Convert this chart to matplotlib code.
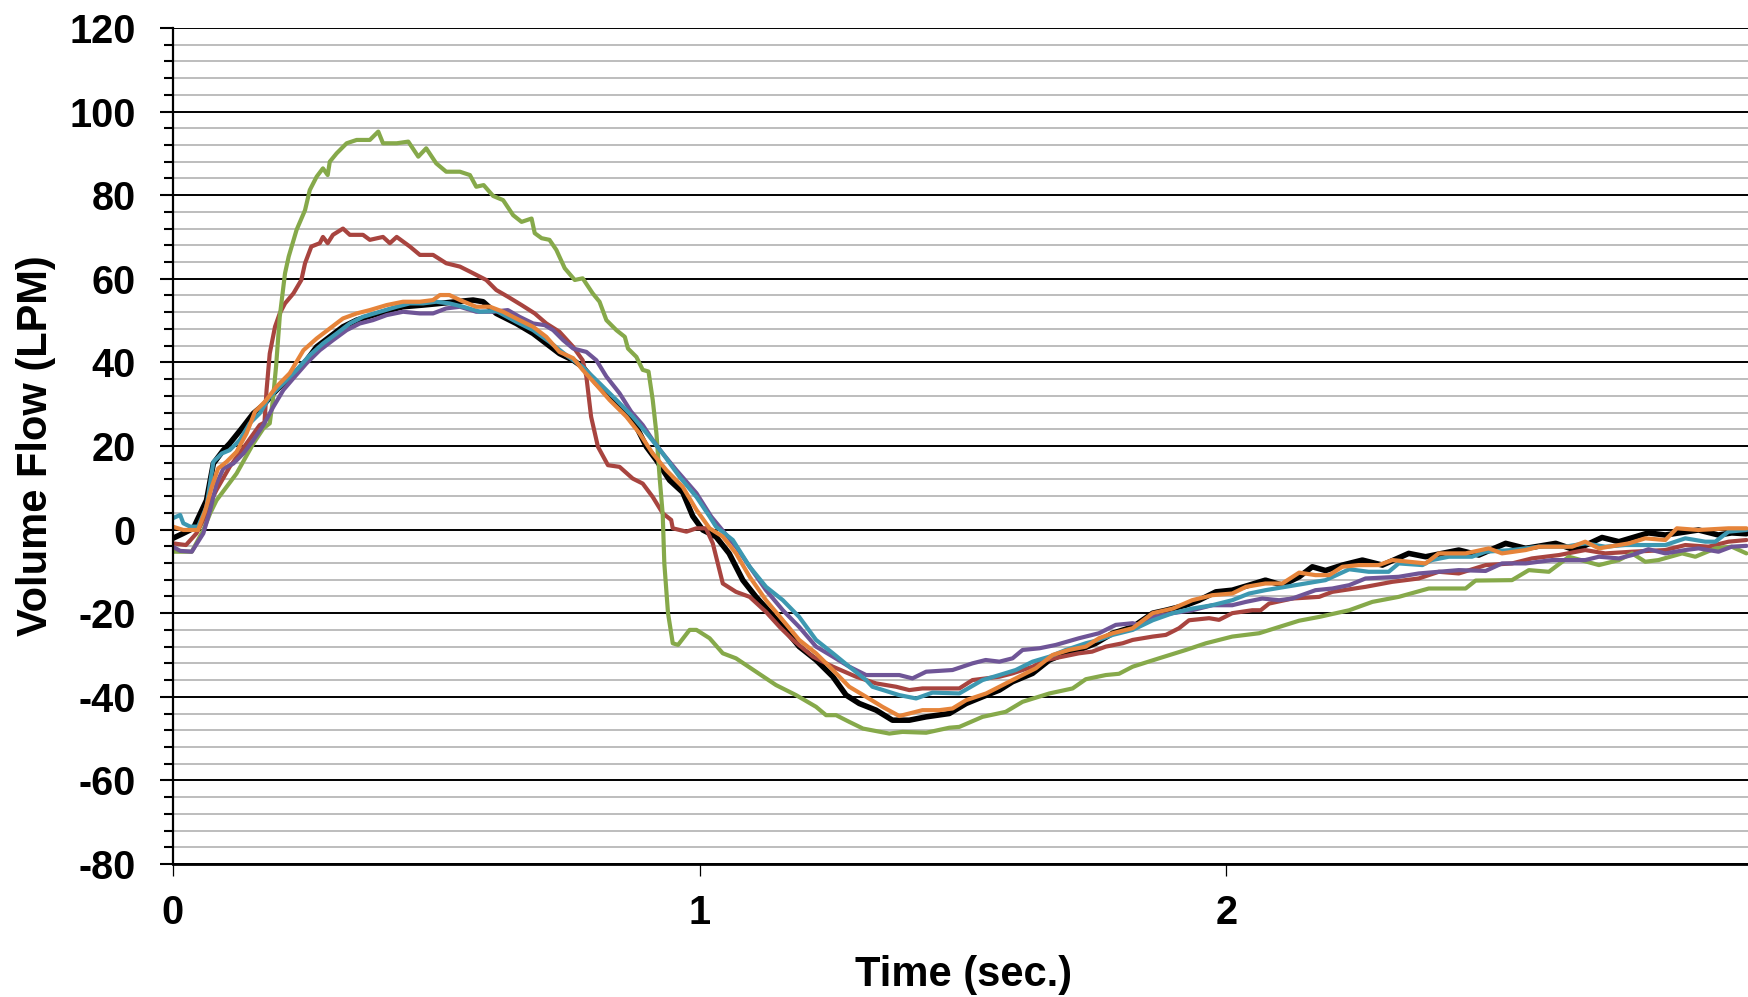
import matplotlib
matplotlib.use("Agg")
import matplotlib.pyplot as plt
from matplotlib.ticker import MultipleLocator

plt.rcParams['font.family'] = ['Liberation Sans', 'DejaVu Sans']
plt.rcParams['font.weight'] = 'bold'
plt.rcParams['axes.unicode_minus'] = False

# (time in s, flow in LPM)
black = [(0, -2.1), (0.02, -0.9), (0.039, 0.3), (0.064, 7), (0.077, 15.8), (0.096, 19), (0.108, 20.6),
         (0.131, 24.2), (0.153, 27.8), (0.172, 29.8), (0.191, 32.6), (0.216, 35.8), (0.235, 37.8),
         (0.254, 40.5), (0.273, 43.7), (0.298, 46.1), (0.323, 48.5), (0.349, 50.1), (0.38, 51.3),
         (0.412, 52.5), (0.437, 53.3), (0.475, 53.7), (0.5, 54), (0.538, 54.5), (0.57, 54.9),
         (0.589, 54.5), (0.614, 51.7), (0.652, 49.3), (0.684, 46.9), (0.709, 44.5), (0.734, 42.1),
         (0.76, 40.5), (0.778, 38.9), (0.804, 35), (0.829, 31.8), (0.854, 28.6), (0.88, 24.6),
         (0.899, 19.8), (0.918, 16.6), (0.943, 11.8), (0.968, 8.9), (0.987, 3.2), (1.006, -0.1),
         (1.031, -1.7), (1.056, -5.7), (1.082, -12.1), (1.107, -16.1), (1.133, -19.7), (1.158, -23.3),
         (1.189, -28), (1.221, -31.2), (1.253, -35.2), (1.278, -39.6), (1.303, -41.6), (1.335, -43.2),
         (1.366, -45.6), (1.398, -45.6), (1.43, -44.8), (1.474, -44), (1.506, -41.6), (1.537, -40),
         (1.569, -38.4), (1.594, -36.4), (1.632, -34.4), (1.664, -31.2), (1.695, -29.6), (1.72, -28.8),
         (1.752, -27.2), (1.784, -24.8), (1.822, -23.3), (1.86, -20), (1.885, -19.3), (1.923, -18.1),
         (1.948, -16.9), (1.98, -14.9), (2.011, -14.5), (2.043, -13.3), (2.074, -12.1), (2.106, -13.3),
         (2.138, -11.3), (2.163, -8.9), (2.188, -9.8), (2.22, -8.5), (2.258, -7.3), (2.296, -8.5),
         (2.346, -5.7), (2.378, -6.5), (2.441, -4.9), (2.479, -6.1), (2.53, -3.3), (2.568, -4.5),
         (2.625, -3.3), (2.662, -4.9), (2.713, -1.9), (2.745, -2.9), (2.801, -0.8), (2.833, -1.3),
         (2.896, -0.1), (2.934, -1.3), (2.959, -0.8), (2.987, -1)]

red = [(0, -3.3), (0.025, -3.7), (0.045, -0.9), (0.058, 2.3), (0.071, 6.5), (0.083, 9.5), (0.108, 15),
       (0.14, 20.6), (0.165, 25), (0.174, 25.6), (0.178, 33.4), (0.184, 42.1), (0.194, 48.5),
       (0.203, 51.7), (0.213, 54.1), (0.229, 56.5), (0.244, 59.7), (0.251, 63.7), (0.263, 67.7),
       (0.279, 68.5), (0.285, 70), (0.294, 68.5), (0.304, 70.5), (0.323, 72), (0.336, 70.5),
       (0.361, 70.5), (0.374, 69.3), (0.399, 70), (0.412, 68.5), (0.425, 70), (0.45, 67.7),
       (0.469, 65.7), (0.494, 65.7), (0.519, 63.7), (0.545, 62.9), (0.564, 61.7), (0.595, 59.7),
       (0.614, 57.3), (0.636, 55.7), (0.662, 53.7), (0.687, 51.7), (0.709, 49.3), (0.734, 47.3),
       (0.76, 43.7), (0.778, 40.5), (0.785, 36.6), (0.794, 27), (0.807, 19.8), (0.826, 15.4),
       (0.848, 15), (0.873, 12.2), (0.892, 11), (0.911, 7.8), (0.93, 3.9), (0.946, 2.3), (0.949, 0.3),
       (0.975, -0.5), (0.994, 0.3), (1.012, 0.3), (1.025, -3.3), (1.044, -12.9), (1.069, -14.9),
       (1.095, -16.1), (1.126, -19.7), (1.152, -23.3), (1.177, -26.4), (1.215, -30.4), (1.253, -32.8),
       (1.297, -35.2), (1.335, -36.8), (1.373, -37.6), (1.398, -38.4), (1.423, -38), (1.455, -38),
       (1.493, -38), (1.518, -36), (1.569, -35.2), (1.594, -34.4), (1.632, -32.8), (1.657, -31.2),
       (1.689, -30.4), (1.72, -29.6), (1.745, -29.2), (1.771, -28), (1.803, -27.2), (1.822, -26.4),
       (1.86, -25.6), (1.885, -25.2), (1.91, -23.6), (1.929, -21.7), (1.967, -21.2), (1.986, -21.6),
       (2.011, -20), (2.049, -19.3), (2.065, -19.3), (2.081, -17.7), (2.125, -16.5), (2.176, -16.1),
       (2.201, -14.9), (2.264, -13.7), (2.315, -12.5), (2.365, -11.7), (2.403, -10.1), (2.441, -10.5),
       (2.492, -8.5), (2.542, -8.1), (2.58, -6.9), (2.631, -6.1), (2.681, -4.9), (2.719, -5.7),
       (2.77, -5.3), (2.833, -4.9), (2.871, -3.7), (2.915, -4.1), (2.953, -2.9), (2.987, -2.5)]

green = [(0, -5.3), (0.036, -5.3), (0.058, -0.1), (0.071, 3.9), (0.083, 7), (0.121, 13.4), (0.153, 20.6),
         (0.172, 24.2), (0.184, 25.4), (0.19, 31), (0.196, 39), (0.203, 50.9), (0.213, 61.3),
         (0.22, 65.3), (0.235, 71.7), (0.251, 76.4), (0.26, 81.2), (0.273, 84.4), (0.285, 86.4),
         (0.294, 84.8), (0.298, 88), (0.311, 90), (0.33, 92.4), (0.349, 93.2), (0.374, 93.2),
         (0.39, 95.2), (0.399, 92.4), (0.425, 92.4), (0.447, 92.8), (0.466, 89.2), (0.481, 91.2),
         (0.5, 87.6), (0.519, 85.6), (0.545, 85.6), (0.564, 84.8), (0.576, 82), (0.59, 82.4),
         (0.608, 79.8), (0.627, 78.8), (0.646, 75.2), (0.662, 73.6), (0.681, 74.4), (0.687, 70.9),
         (0.7, 69.7), (0.715, 69.3), (0.728, 66.9), (0.744, 62.5), (0.763, 59.7), (0.778, 60.1),
         (0.797, 56.5), (0.81, 54.5), (0.823, 50.1), (0.842, 47.7), (0.858, 46.1), (0.864, 43.3),
         (0.88, 41.3), (0.892, 38.2), (0.903, 37.8), (0.911, 31), (0.918, 23), (0.924, 12.6),
         (0.93, 3.5), (0.933, -8.1), (0.94, -20), (0.949, -27.2), (0.959, -27.6), (0.981, -24),
         (0.994, -24), (1.019, -26), (1.044, -29.6), (1.069, -30.8), (1.107, -34), (1.145, -37.2),
         (1.183, -39.6), (1.221, -42.4), (1.24, -44.4), (1.259, -44.4), (1.284, -46), (1.31, -47.6),
         (1.36, -48.8), (1.385, -48.4), (1.43, -48.6), (1.474, -47.4), (1.493, -47.2), (1.537, -44.8),
         (1.581, -43.6), (1.613, -41.2), (1.664, -39.2), (1.708, -38), (1.733, -35.8), (1.771, -34.8),
         (1.796, -34.5), (1.822, -32.8), (1.872, -30.8), (1.923, -28.8), (1.961, -27.2), (2.011, -25.6),
         (2.062, -24.8), (2.1, -23.3), (2.138, -21.8), (2.176, -20.9), (2.233, -19.3), (2.277, -17.3),
         (2.327, -16.1), (2.384, -14.1), (2.454, -14.1), (2.473, -12.2), (2.542, -12.1), (2.574, -9.7),
         (2.612, -10.1), (2.65, -6.5), (2.707, -8.5), (2.745, -7.3), (2.77, -5.7), (2.795, -7.7),
         (2.82, -7.3), (2.865, -5.7), (2.89, -6.5), (2.928, -4.5), (2.959, -4.1), (2.987, -5.7)]

purple = [(0, -4.1), (0.014, -5.1), (0.036, -5.3), (0.058, -0.9), (0.071, 4.7), (0.083, 11), (0.096, 14.6),
          (0.115, 15.8), (0.134, 18.2), (0.153, 21.4), (0.172, 25), (0.191, 29.4), (0.21, 33.4),
          (0.229, 36.2), (0.254, 39.8), (0.279, 42.9), (0.304, 45.3), (0.33, 47.7), (0.355, 49.3),
          (0.38, 50.1), (0.406, 51.3), (0.437, 52.1), (0.469, 51.7), (0.494, 51.7), (0.519, 52.9),
          (0.545, 53.3), (0.576, 52.1), (0.608, 52.1), (0.636, 52.5), (0.658, 50.9), (0.684, 49.3),
          (0.706, 48.9), (0.722, 47.7), (0.741, 45.3), (0.76, 43.3), (0.785, 42.5), (0.804, 40.5),
          (0.823, 36.6), (0.848, 32.6), (0.87, 28.2), (0.892, 25), (0.911, 21.4), (0.93, 18.2),
          (0.956, 14.2), (0.994, 8.7), (1.022, 3.1), (1.069, -4.1), (1.095, -8.9), (1.126, -14.5),
          (1.158, -19.3), (1.189, -23.3), (1.221, -28), (1.253, -30.4), (1.284, -32.8), (1.316, -34.8),
          (1.348, -34.8), (1.379, -34.8), (1.404, -35.6), (1.43, -34), (1.48, -33.6), (1.518, -32),
          (1.543, -31.2), (1.569, -31.6), (1.594, -30.8), (1.613, -28.8), (1.645, -28.4), (1.676, -27.6),
          (1.72, -26), (1.758, -24.8), (1.79, -22.8), (1.822, -22.4), (1.834, -22.8), (1.86, -20.9),
          (1.898, -20), (1.935, -19.3), (1.973, -18.1), (2.011, -18.1), (2.037, -17.3), (2.068, -16.5),
          (2.1, -16.9), (2.125, -16.5), (2.169, -14.5), (2.201, -14.1), (2.233, -13.3), (2.264, -11.7),
          (2.327, -11.3), (2.365, -10.5), (2.441, -9.7), (2.492, -9.9), (2.523, -8.1), (2.568, -8.1),
          (2.618, -7.3), (2.681, -7.3), (2.707, -6.5), (2.745, -6.9), (2.77, -6.1), (2.801, -4.7),
          (2.833, -5.7), (2.871, -4.9), (2.896, -4.5), (2.934, -5.3), (2.959, -4.1), (2.987, -3.9)]

teal = [(0, 2.7), (0.014, 3.5), (0.02, 1.5), (0.033, 0.7), (0.048, 0.7), (0.064, 5.5), (0.077, 16.2),
        (0.093, 18.2), (0.108, 19), (0.127, 21.4), (0.146, 25.4), (0.165, 27.8), (0.184, 31.8),
        (0.21, 35), (0.235, 38.2), (0.26, 41.7), (0.285, 44.5), (0.311, 46.9), (0.336, 49.3),
        (0.361, 50.9), (0.393, 52.1), (0.425, 53.3), (0.45, 54.1), (0.475, 54.1), (0.5, 54.5),
        (0.525, 54.1), (0.551, 53.3), (0.583, 52.1), (0.614, 52.3), (0.652, 49.7), (0.684, 47.7),
        (0.715, 44.9), (0.747, 41.7), (0.778, 38.9), (0.81, 35), (0.842, 31), (0.873, 27),
        (0.905, 22.2), (0.93, 18.2), (0.962, 12.6), (0.994, 7.8), (1.019, 3.1), (1.031, 0.7),
        (1.063, -2.5), (1.095, -8.9), (1.126, -13.7), (1.158, -16.9), (1.189, -20.9), (1.221, -26.4),
        (1.253, -29.6), (1.284, -32.8), (1.316, -36), (1.328, -37.6), (1.379, -39.6), (1.411, -40.4),
        (1.442, -39), (1.493, -39.2), (1.537, -36), (1.569, -34.8), (1.6, -33.6), (1.632, -31.6),
        (1.664, -30.4), (1.695, -28.8), (1.733, -27.2), (1.758, -26.4), (1.784, -25.2), (1.822, -24),
        (1.86, -21.7), (1.898, -20), (1.935, -18.9), (1.973, -18.1), (2.011, -16.9), (2.043, -15.3),
        (2.074, -14.5), (2.112, -13.7), (2.15, -12.9), (2.188, -12.1), (2.233, -9.5), (2.27, -10.1),
        (2.308, -10.1), (2.327, -8.1), (2.372, -8.5), (2.39, -7.3), (2.422, -6.5), (2.466, -6.5),
        (2.492, -5.3), (2.542, -4.9), (2.593, -4.1), (2.643, -4.1), (2.681, -3.3), (2.719, -4.1),
        (2.757, -3.7), (2.795, -3.7), (2.833, -3.7), (2.871, -2.1), (2.909, -2.9), (2.928, -2.9),
        (2.953, -0.5), (2.987, -0.1)]

orange = [(0, 0.7), (0.02, -0.1), (0.048, -0.1), (0.061, 4.3), (0.074, 10.2), (0.086, 14.6), (0.102, 16.2),
          (0.121, 18.6), (0.14, 23), (0.156, 28.2), (0.175, 30.6), (0.197, 34.2), (0.222, 37.4),
          (0.248, 42.9), (0.273, 45.7), (0.298, 48.1), (0.323, 50.5), (0.349, 51.7), (0.374, 52.5),
          (0.406, 53.7), (0.437, 54.5), (0.469, 54.5), (0.494, 54.9), (0.507, 56.1), (0.525, 56.1),
          (0.545, 54.9), (0.576, 53.3), (0.602, 53.3), (0.627, 52.1), (0.658, 50.1), (0.684, 48.5),
          (0.709, 46.1), (0.734, 42.5), (0.76, 41), (0.778, 38.2), (0.804, 34.6), (0.829, 31),
          (0.861, 27), (0.886, 23), (0.911, 18.2), (0.937, 14.2), (0.968, 10.2), (0.994, 4.7),
          (1.019, 0.3), (1.044, -1.7), (1.069, -5.7), (1.095, -11.3), (1.126, -16.9), (1.158, -21.7),
          (1.189, -26.4), (1.221, -29.6), (1.253, -33.6), (1.284, -37.6), (1.316, -40), (1.347, -42.4),
          (1.379, -44.6), (1.398, -44), (1.423, -43.2), (1.455, -43.2), (1.48, -42.8), (1.506, -40.8),
          (1.544, -39.2), (1.569, -37.6), (1.6, -35.6), (1.638, -33.2), (1.67, -30), (1.701, -28.8),
          (1.733, -28), (1.758, -26), (1.784, -24.8), (1.822, -23.6), (1.86, -20), (1.898, -18.9),
          (1.935, -16.9), (1.973, -15.7), (2.011, -15.3), (2.037, -13.7), (2.074, -12.9), (2.106, -12.9),
          (2.138, -10.3), (2.169, -10.9), (2.195, -10.9), (2.22, -8.9), (2.251, -8.5), (2.289, -8.5),
          (2.315, -7.3), (2.378, -8.1), (2.403, -5.7), (2.454, -5.7), (2.498, -4.5), (2.523, -5.7),
          (2.568, -4.9), (2.593, -4.1), (2.656, -4.1), (2.681, -2.9), (2.707, -4.5), (2.764, -3.3),
          (2.795, -2.1), (2.833, -2.5), (2.855, 0.3), (2.896, -0.1), (2.953, 0.3), (2.987, 0.3)]

series = [(black, '#000000', 4.0), (red, '#A8443F', 3.0), (green, '#86A94A', 3.0),
          (purple, '#6F5597', 3.0), (teal, '#3D98B1', 3.0), (orange, '#E6843A', 3.0)]

W, H = 1748, 997
fig = plt.figure(figsize=(W / 100, H / 100), dpi=100)
left, right, top, bottom = 172.8, 1748, 27.9, 864
ax = fig.add_axes([left / W, 1 - bottom / H, (right - left) / W, (bottom - top) / H])

for pts, col, lw in series:
    t = [p[0] for p in pts]
    v = [p[1] for p in pts]
    ax.plot(t, v, color=col, lw=lw, solid_joinstyle='round', solid_capstyle='round')

ax.set_xlim(0, 2.99)
ax.set_ylim(-80, 120)
ax.yaxis.set_major_locator(MultipleLocator(20))
ax.yaxis.set_minor_locator(MultipleLocator(4))
ax.set_xticks([0, 1, 2])
ax.set_xticklabels(['0', '1', '2'])

ax.set_axisbelow(True)
ax.grid(axis='y', which='major', color='black', lw=1.4)
ax.grid(axis='y', which='minor', color='#b8b8b8', lw=1.3)

for s in ('top', 'right'):
    ax.spines[s].set_visible(False)
ax.spines['left'].set_linewidth(1.6)
ax.spines['bottom'].set_linewidth(2.0)

ax.tick_params(axis='y', which='major', direction='out', length=9.4, width=1.5,
               pad=17.5, labelsize=28.5)
ax.tick_params(axis='y', which='minor', direction='out', length=6.5, width=1.5)
ax.tick_params(axis='x', which='major', direction='out', length=8.6, width=0.9,
               pad=13, labelsize=28.5)
for lab in ax.get_xticklabels() + ax.get_yticklabels():
    lab.set_fontweight('bold')

ax.set_xlabel('Time (sec.)', fontsize=30, fontweight='bold')
ax.set_ylabel('Volume Flow (LPM)', fontsize=30, fontweight='bold')
ax.xaxis.set_label_coords(0.502, -0.109)
ax.yaxis.set_label_coords(-0.074, 0.5)

fig.savefig('out.png', dpi=100)
